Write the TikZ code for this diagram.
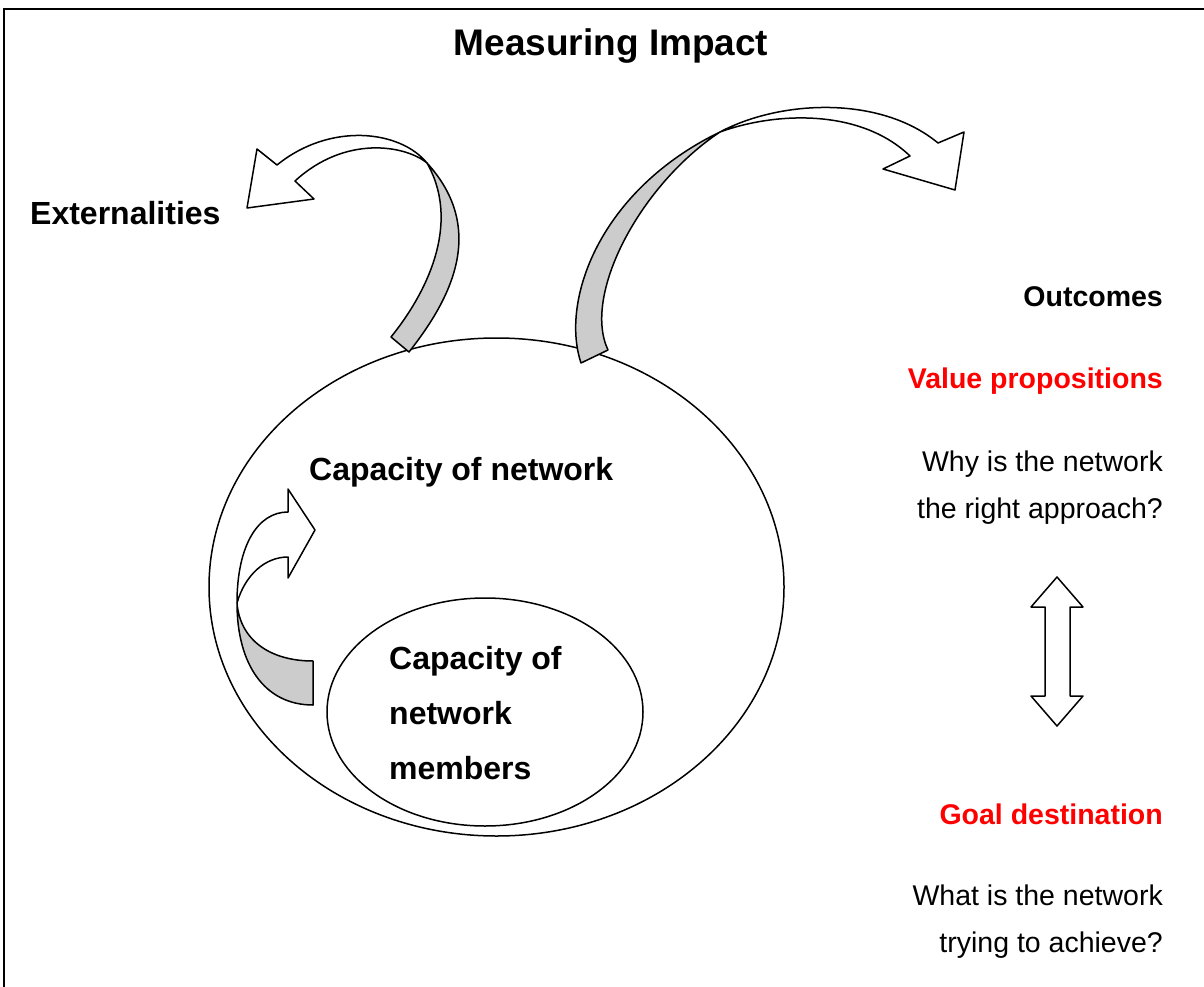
\documentclass[tikz,border=0pt]{standalone}
\usepackage{fontspec}
\setmainfont{Liberation Sans}
\usetikzlibrary{shapes.geometric}

\tikzset{
  txt/.style={font=\fontsize{28.5}{34}\selectfont, inner sep=0pt},
  btxt/.style={font=\bfseries\fontsize{28.5}{34}\selectfont, inner sep=0pt},
  bigtxt/.style={font=\bfseries\fontsize{32}{38}\selectfont, inner sep=0pt},
  shp/.style={draw, line width=1.5pt, line join=round},
  back/.style={shp, fill=black!20},
  front/.style={shp, fill=white}
}

\begin{document}
\begin{tikzpicture}[x=1pt,y=-1pt]
\useasboundingbox (0,0) rectangle (1204,987);
\draw[line width=2pt] (4,987) -- (4,9) -- (1204,9);

\node[btxt, font=\bfseries\fontsize{37}{44}\selectfont, anchor=base] (title) at (611,56) {Measuring Impact};

% the two rings
\node[shp, ellipse, minimum width=575pt, minimum height=498pt] (bigring) at (496.5,587) {};
\node[shp, ellipse, minimum width=316pt, minimum height=228pt] (smallring) at (485,712) {};

\node[bigtxt, anchor=base west] (ext) at (30,224) {Externalities};
\node[bigtxt, anchor=base west] (capnet) at (309,480) {Capacity of network};
\node[bigtxt, anchor=base west] (capmem1) at (389,669) {Capacity of};
\node[bigtxt, anchor=base west] (capmem2) at (389,724) {network};
\node[bigtxt, anchor=base west] (capmem3) at (389,779) {members};

\node[btxt, anchor=base east] (outc) at (1163,306) {Outcomes};
\node[btxt, anchor=base east, text=red] (valprop) at (1163,388) {Value propositions};
\node[txt, anchor=base east] (why1) at (1163,471) {Why is the network};
\node[txt, anchor=base east] (why2) at (1163,518) {the right approach?};
\node[btxt, anchor=base east, text=red] (goal) at (1163,824) {Goal destination};
\node[txt, anchor=base east] (what1) at (1163,905) {What is the network};
\node[txt, anchor=base east] (what2) at (1163,952) {trying to achieve?};

% arrow out to the left
\draw[back] (427,163) .. controls (488,230) and (450,300) .. (409,352) -- (391,337)
  .. controls (425,295) and (462,225) .. (427,163) -- cycle;
\draw[front] (427,163) .. controls (400,130) and (330,122) .. (277,165) -- (257,149)
  -- (247,208) -- (314,199) -- (295,181) .. controls (345,135) and (405,145) .. (427,163) -- cycle;

% arrow out to the right
\draw[back] (720,132) .. controls (600,190) and (560,300) .. (581,363) -- (608,350)
  .. controls (582,295) and (640,185) .. (720,132) -- cycle;
\draw[front] (720,132) .. controls (780,100) and (880,95) .. (938,143) -- (964,132)
  -- (955,190) -- (883,169) -- (910,156) .. controls (860,108) and (775,112) .. (720,132) -- cycle;

% arrow from members to network
\draw[back] (237,603) .. controls (237,665) and (265,705) .. (313,705) -- (313,661)
  .. controls (270,661) and (240,640) .. (237,603) -- cycle;
\draw[front] (237,603) .. controls (237,545) and (258,512) .. (288,512) -- (288,489)
  -- (315,530) -- (288,578) -- (288,557) .. controls (265,557) and (245,575) .. (237,603) -- cycle;

% up and down
\draw[front] (1057,577) -- (1083,607) -- (1070,607) -- (1070,696) -- (1083,696) -- (1057,726)
  -- (1031,696) -- (1045,696) -- (1045,607) -- (1031,607) -- cycle;
\end{tikzpicture}
\end{document}
